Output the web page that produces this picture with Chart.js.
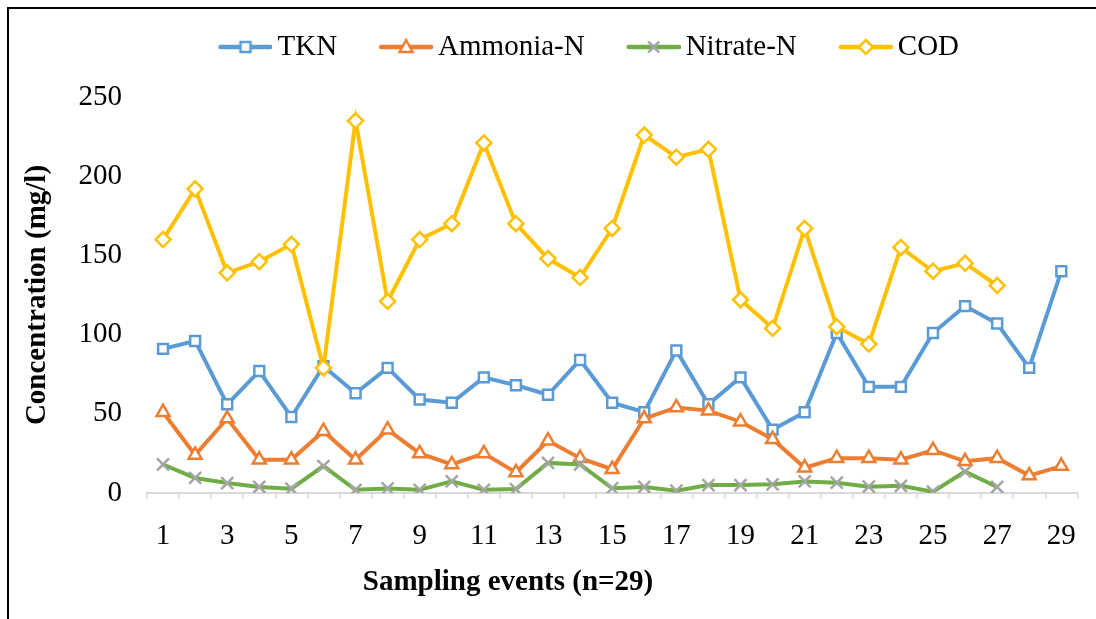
<!DOCTYPE html>
<html>
<head>
<meta charset="utf-8">
<script src="https://cdn.jsdelivr.net/npm/chart.js@4.4.1/dist/chart.umd.min.js"></script>
<style>
  html, body { margin: 0; padding: 0; background: #fff; }
  #wrap { position: relative; width: 1096px; height: 619px; overflow: hidden; }
  #frame { position: absolute; left: 7px; top: 7px; right: -4px; bottom: -4px;
           border-left: 2px solid #000; border-top: 2px solid #000; pointer-events: none; }
</style>
</head>
<body>
<div id="wrap">
  <canvas id="chart" width="1096" height="619"></canvas>
  <div id="frame"></div>
</div>
<script>
const events = ['1','2','3','4','5','6','7','8','9','10','11','12','13','14','15',
                '16','17','18','19','20','21','22','23','24','25','26','27','28','29'];

const tkn = [91, 96, 56, 77, 48, 80, 63, 79, 59, 57, 73, 68, 62, 84, 57,
             51, 90, 56, 73, 40, 51, 101, 67, 67, 101, 118, 107, 79, 140];
const ammonia = [51, 24, 47, 21, 21, 39, 21, 40, 25, 18, 25, 13, 33, 22, 15,
                 47, 54, 52, 45, 34, 16, 22, 22, 21, 27, 20, 22, 11, 17];
const nitrate = [18, 9.5, 6.3, 3.8, 2.7, 17, 2, 2.9, 2, 7.3, 2, 2.5, 19, 18, 3,
                 3.8, 1.5, 5, 5, 5.5, 7.3, 6.5, 4, 4.5, 0.8, 13.5, 3.8];
const cod = [160, 192, 139, 146, 157, 79, 235, 121, 160, 170, 221, 170, 148, 136, 167,
             226, 212, 217, 122, 104, 167, 105, 94, 155, 140, 145, 131];

const yTicks = [0, 50, 100, 150, 200, 250];

const serif = "'Liberation Serif', 'Times New Roman', serif";

// line+marker sample for the legend (Excel style); drawn in the right part of a 73px canvas
function legendIcon(lineColor, markColor, style) {
  const c = document.createElement('canvas');
  c.width = 73; c.height = 22;
  const ctx = c.getContext('2d');
  const cx = 46, cy = 11;
  ctx.strokeStyle = lineColor;
  ctx.lineWidth = 4.5;
  ctx.lineCap = 'round';
  ctx.beginPath(); ctx.moveTo(21, cy); ctx.lineTo(71, cy); ctx.stroke();
  ctx.fillStyle = '#fff';
  ctx.strokeStyle = markColor;
  ctx.lineWidth = 2.5;
  ctx.lineCap = 'butt';
  ctx.beginPath();
  if (style === 'rect') {
    ctx.rect(cx - 5, cy - 5, 10, 10); ctx.fill(); ctx.stroke();
  } else if (style === 'triangle') {
    ctx.moveTo(cx, cy - 7); ctx.lineTo(cx + 6.5, cy + 5); ctx.lineTo(cx - 6.5, cy + 5); ctx.closePath();
    ctx.fill(); ctx.stroke();
  } else if (style === 'crossRot') {
    ctx.moveTo(cx - 5.5, cy - 5.5); ctx.lineTo(cx + 5.5, cy + 5.5);
    ctx.moveTo(cx + 5.5, cy - 5.5); ctx.lineTo(cx - 5.5, cy + 5.5); ctx.stroke();
  } else {
    ctx.moveTo(cx, cy - 7); ctx.lineTo(cx + 7, cy); ctx.lineTo(cx, cy + 7); ctx.lineTo(cx - 7, cy); ctx.closePath();
    ctx.fill(); ctx.stroke();
  }
  return c;
}

const icons = [
  legendIcon('#5B9BD5', '#5B9BD5', 'rect'),
  legendIcon('#ED7D31', '#ED7D31', 'triangle'),
  legendIcon('#70AD47', '#A5A5A5', 'crossRot'),
  legendIcon('#FFC000', '#FFC000', 'rectRot')
];

// legend box as tall as Excel's header band, then nudge legend and bottom title sideways
const boxTweaks = {
  id: 'boxTweaks',
  beforeLayout(chart) {
    const lg = chart.legend;
    if (lg && !lg._tallFit) {
      const fit = lg.fit;
      lg.fit = function () { fit.call(this); this.height = 97; };
      lg._tallFit = true;
    }
  },
  afterLayout(chart) {
    chart.legend.left += 36; chart.legend.right += 36;
    chart.titleBlock.left -= 40; chart.titleBlock.right -= 40;
  }
};

new Chart(document.getElementById('chart').getContext('2d'), {
  type: 'line',
  data: {
    labels: events,
    datasets: [
      { label: 'TKN', data: tkn, order: 3, borderColor: '#5B9BD5', borderWidth: 4,
        pointStyle: 'rect', pointRadius: 7, pointBorderWidth: 2.5,
        pointBackgroundColor: '#fff', pointBorderColor: '#5B9BD5' },
      { label: 'Ammonia-N', data: ammonia, order: 2, borderColor: '#ED7D31', borderWidth: 4,
        pointStyle: 'triangle', pointRadius: 7.5, pointBorderWidth: 2.5,
        pointBackgroundColor: '#fff', pointBorderColor: '#ED7D31' },
      { label: 'Nitrate-N', data: nitrate, order: 1, borderColor: '#70AD47', borderWidth: 4,
        pointStyle: 'crossRot', pointRadius: 8.5, pointBorderWidth: 2.5,
        pointBackgroundColor: '#fff', pointBorderColor: '#A5A5A5' },
      { label: 'COD', data: cod, order: 0, borderColor: '#FFC000', borderWidth: 4,
        pointStyle: 'rectRot', pointRadius: 7.5, pointBorderWidth: 2.5,
        pointBackgroundColor: '#fff', pointBorderColor: '#FFC000' }
    ]
  },
  options: {
    responsive: false,
    animation: false,
    devicePixelRatio: 1,
    layout: { padding: 0 },
    elements: { line: { tension: 0 } },
    plugins: {
      tooltip: { enabled: false },
      legend: {
        position: 'top',
        labels: {
          usePointStyle: true,
          pointStyleWidth: 54,
          padding: 32.5,
          color: '#000',
          font: { family: serif, size: 29 },
          generateLabels: chart => chart.data.datasets.map((ds, i) => ({
            text: ds.label, pointStyle: icons[i], fillStyle: ds.borderColor,
            strokeStyle: ds.borderColor, lineWidth: 0, hidden: false,
            datasetIndex: i, fontColor: '#000'
          }))
        }
      },
      title: {
        display: true,
        position: 'bottom',
        text: 'Sampling events (n=29)',
        color: '#000',
        font: { family: serif, size: 29, weight: 'bold' },
        padding: { top: 8, bottom: 18.6 }
      }
    },
    scales: {
      x: {
        offset: true,
        afterFit: s => { s.height = 64.6; },
        grid: { display: true, drawOnChartArea: false, drawTicks: true, tickLength: 6,
                color: '#D9D9D9', lineWidth: 1.5, offset: true },
        border: { color: '#D9D9D9', width: 2 },
        ticks: {
          autoSkip: false, maxRotation: 0, padding: 20, color: '#000',
          font: { family: serif, size: 29 },
          callback: function (val, idx) { return idx % 2 === 0 ? this.getLabelForValue(val) : ''; }
        }
      },
      y: {
        min: yTicks[0],
        max: yTicks[yTicks.length - 1],
        afterFit: s => { s.width = 147; },
        afterBuildTicks: s => { s.ticks = yTicks.map(v => ({ value: v })); },
        grid: { display: false, drawTicks: false },
        border: { display: false },
        ticks: { padding: 25, color: '#000', font: { family: serif, size: 29 } },
        title: {
          display: true,
          text: 'Concentration (mg/l)',
          color: '#000',
          font: { family: serif, size: 29, weight: 'bold' },
          padding: { top: 20, bottom: 0 }
        }
      }
    }
  },
  plugins: [boxTweaks]
});
</script>
</body>
</html>
